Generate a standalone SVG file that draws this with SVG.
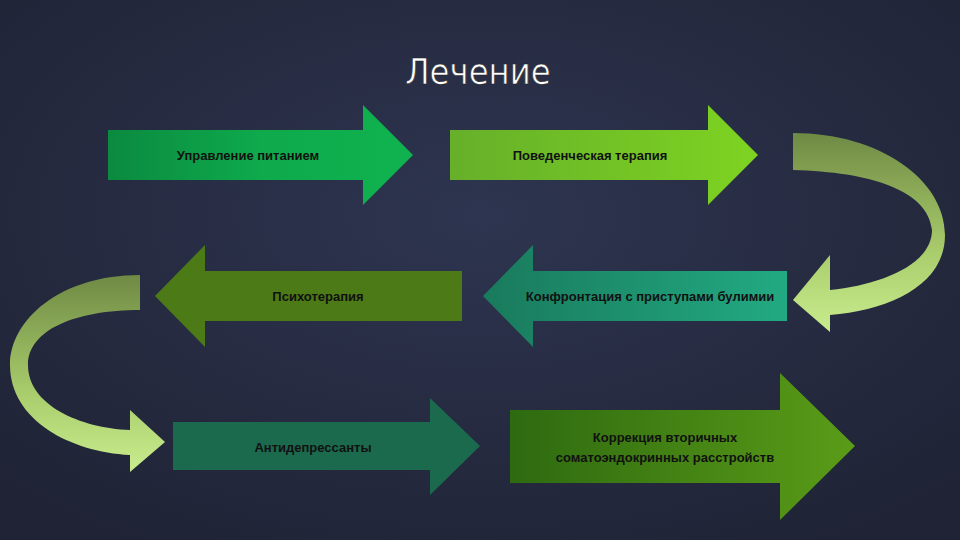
<svg xmlns="http://www.w3.org/2000/svg" width="960" height="540" viewBox="0 0 960 540">
<defs>
<radialGradient id="bg" cx="50%" cy="40%" r="70%"><stop offset="0" stop-color="#2e3550"/><stop offset="1" stop-color="#1f2335"/></radialGradient>
<linearGradient id="c1" x1="0" y1="0" x2="0" y2="1"><stop offset="0" stop-color="#6f8a44"/><stop offset="0.6" stop-color="#a9cc6c"/><stop offset="1" stop-color="#c9ec8e"/></linearGradient>
<linearGradient id="g1" x1="0" x2="1"><stop offset="0" stop-color="#0b8a40"/><stop offset="0.5" stop-color="#0eaa4c"/><stop offset="1" stop-color="#10b24f"/></linearGradient>
<linearGradient id="g2" x1="0" x2="1"><stop offset="0" stop-color="#66b02a"/><stop offset="1" stop-color="#7ed321"/></linearGradient>
<linearGradient id="g4" x1="0" x2="1"><stop offset="0" stop-color="#197a5c"/><stop offset="1" stop-color="#22aa82"/></linearGradient>
<linearGradient id="g6" x1="0" x2="1"><stop offset="0" stop-color="#2e6a10"/><stop offset="1" stop-color="#5a9c18"/></linearGradient>
<style>
.t{font-family:"Liberation Sans",Arial,sans-serif;font-size:13px;font-weight:bold;fill:#111;text-anchor:middle}
</style>
</defs>
<rect width="960" height="540" fill="url(#bg)"/>
<text x="478" y="84" font-family="'DejaVu Sans Condensed','Liberation Sans',sans-serif" font-size="36" fill="#fff" stroke="#222" stroke-width="0.6" text-anchor="middle">Лечение</text>
<g id="connectors">
<path d="M793,133 C880,133 945,180 945,235 C945,285 890,310 830,315 L830,332 L793,300 L830,255 L830,290 C880,285 932,265 932,230 C928,190 870,172 793,170 Z" fill="url(#c1)"/>
<path d="M140,275 C60,275 10,320 10,365 C10,420 70,452 130,455 L130,472 L165,442 L130,410 L130,430 C80,428 28,405 28,365 C28,330 75,310 140,310 Z" fill="url(#c1)"/>
</g>
<g id="n1"><path d="M108,130 H363 V105 L413,155 L363,205 V180 H108 Z" fill="url(#g1)"/><text class="t" x="248" y="160">Управление питанием</text></g>
<g id="n2"><path d="M450,130 H708 V105 L758,155 L708,205 V180 H450 Z" fill="url(#g2)"/><text class="t" x="590" y="160">Поведенческая терапия</text></g>
<g id="n3"><path d="M462,271 H205 V245 L155,296 L205,347 V321 H462 Z" fill="#4c7a16"/><text class="t" x="318" y="301">Психотерапия</text></g>
<g id="n4"><path d="M787,271 H533 V245 L483,296 L533,347 V321 H787 Z" fill="url(#g4)"/><text class="t" x="650" y="301">Конфронтация с приступами булимии</text></g>
<g id="n5"><path d="M173,422 H430 V398 L480,446 L430,495 V470 H173 Z" fill="#1b6a4e"/><text class="t" x="313" y="452">Антидепрессанты</text></g>
<g id="n6"><path d="M510,410 H780 V373 L855,446 L780,520 V483 H510 Z" fill="url(#g6)"/><text class="t" x="665" y="442">Коррекция вторичных</text><text class="t" x="665" y="462">соматоэндокринных расстройств</text></g>
</svg>
